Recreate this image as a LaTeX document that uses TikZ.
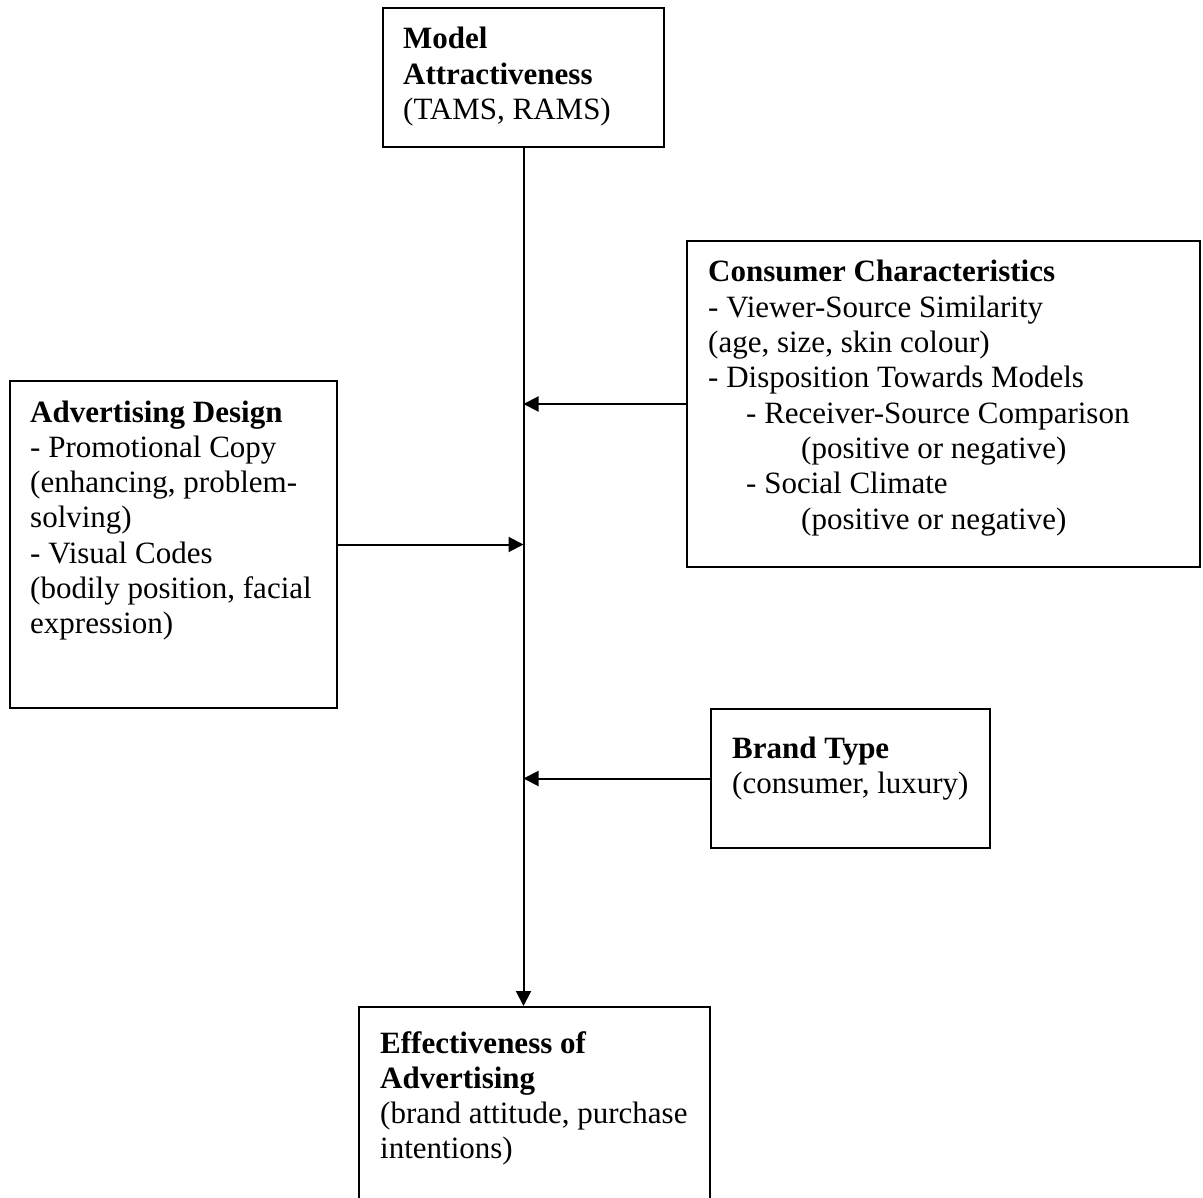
\documentclass[tikz,border=0pt]{standalone}
\usepackage{fontspec}
\setmainfont{Liberation Serif}
\usetikzlibrary{arrows.meta}
\tikzset{
  box/.style={draw, line width=2pt, rectangle, inner sep=0pt, fill=none},
  txt/.style={anchor=base west, inner sep=0pt, font=\fontsize{31}{35.3}\selectfont},
  conn/.style={line width=2pt, -{Triangle[length=15pt,width=15pt]}},
}
\newcommand{\lines}[1]{\begin{tabular}[t]{@{}l@{}}#1\end{tabular}}
\begin{document}
\begin{tikzpicture}[x=1pt,y=-1pt]
\useasboundingbox (0,0) rectangle (1203,1198);
\clip (0,0) rectangle (1203,1198);
\fill[white] (0,0) rectangle (1203,1198);
% boxes
\node[box, minimum width=281pt, minimum height=139pt] (model) at (523.5,77.5) {};
\node[box, minimum width=513pt, minimum height=326pt] (cons) at (943.5,404) {};
\node[box, minimum width=327pt, minimum height=327pt] (ad) at (173.5,544.5) {};
\node[box, minimum width=279pt, minimum height=139pt] (brand) at (850.5,778.5) {};
\node[box, minimum width=351pt, minimum height=253pt] (eff) at (534.5,1133.5) {};
% texts
\node[txt] (modelt) at (403,49) {\lines{\textbf{Model}\\\textbf{Attractiveness}\\(TAMS, RAMS)}};
\node[txt] (const) at (708,282) {\lines{\textbf{Consumer Characteristics}\\- Viewer-Source Similarity\\(age, size, skin colour)\\- Disposition Towards Models\\\hspace*{38pt}- Receiver-Source Comparison\\\hspace*{93pt}(positive or negative)\\\hspace*{38pt}- Social Climate\\\hspace*{93pt}(positive or negative)}};
\node[txt] (adt) at (30,422) {\lines{\textbf{Advertising Design}\\- Promotional Copy\\(enhancing, problem-\\solving)\\- Visual Codes\\(bodily position, facial\\expression)}};
\node[txt] (brandt) at (732,758) {\lines{\textbf{Brand Type}\\(consumer, luxury)}};
\node[txt] (efft) at (380,1053) {\lines{\textbf{Effectiveness of}\\\textbf{Advertising}\\(brand attitude, purchase\\intentions)}};
% connectors
\draw[conn] (model.south) -- (model.south |- eff.north);
\draw[conn] (cons.west) -- (cons.west -| model.south);
\draw[conn] (ad.east) -- (ad.east -| model.south);
\draw[conn] (brand.west) -- (brand.west -| model.south);
\end{tikzpicture}
\end{document}
